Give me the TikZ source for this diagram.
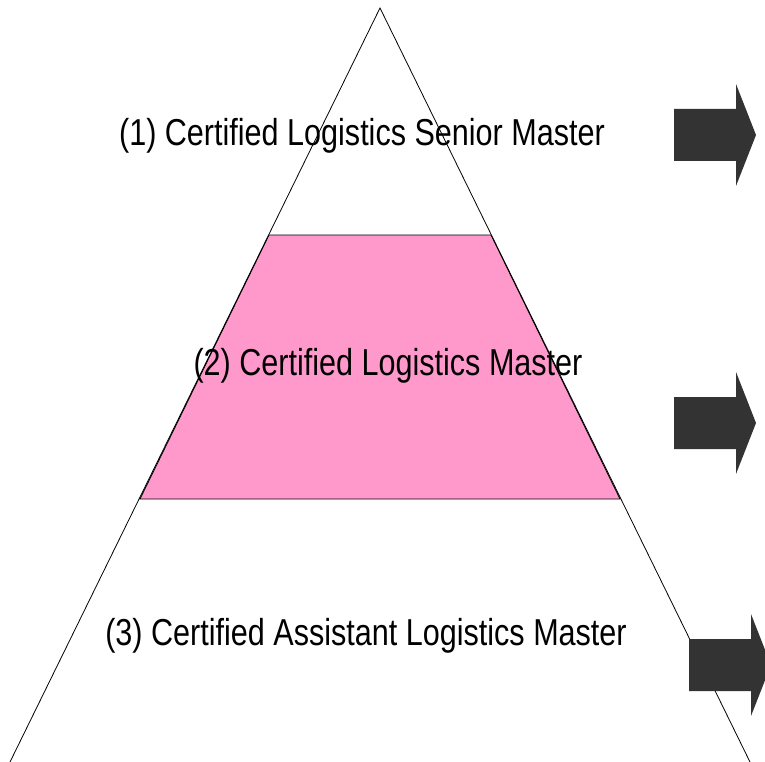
\documentclass[tikz,border=0pt]{standalone}
\usepackage{fontspec}
\setmainfont{Liberation Sans}[FakeStretch=0.815]
\usetikzlibrary{positioning}
\definecolor{levelpink}{HTML}{FF99CC}
\definecolor{arrowgray}{HTML}{333333}

\begin{document}
\begin{tikzpicture}[x=1pt, y=-1pt, level/.style={font=\fontsize{37.5}{42}\selectfont, inner sep=0pt, anchor=base}, bigarrow/.style={fill=arrowgray}, edge/.style={draw=black, line width=0.8pt}]

    \useasboundingbox (0,0) rectangle (765,762);

    %Pyramid
    \coordinate (apex) at (380,8);
    \coordinate (baseL) at (10,762);
    \coordinate (baseR) at (750,762);
    \filldraw[edge, fill=levelpink] (269,235) -- (491,235) -- (620,499) -- (140,499) -- cycle;
    \draw[edge] (baseL) -- (apex) -- (baseR);

    %Levels
    \node[level](senior) at (362,146){(1) Certified Logistics Senior Master};
    \node[level](master) at (388,375){(2) Certified Logistics Master};
    \node[level](assistant) at (366,645){(3) Certified Assistant Logistics Master};

    %Arrows
    \foreach \ax/\ay in {674/135, 674/423, 689/665}
        \fill[bigarrow] (\ax,\ay-26) -- ++(62,0) -- ++(0,-25) -- ++(20,51) -- ++(-20,51) -- ++(0,-25) -- ++(-62,0) -- cycle;

\end{tikzpicture}
\end{document}
